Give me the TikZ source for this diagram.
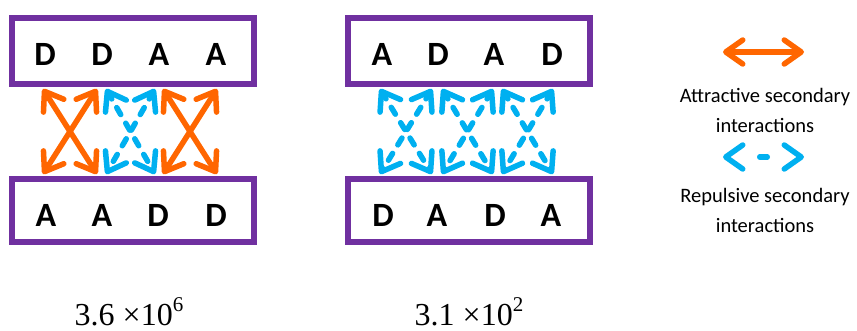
\documentclass[tikz,border=0pt]{standalone}
\usepackage{fontspec}
\setmainfont{Carlito}
\newfontfamily\timesf{Liberation Serif}
\usetikzlibrary{arrows.meta}
\definecolor{purp}{RGB}{112,48,160}
\definecolor{orng}{RGB}{255,102,0}
\definecolor{cyanb}{RGB}{0,176,240}
\tikzset{
  box/.style={draw=purp, line width=6pt, minimum width=242pt, inner sep=0pt},
  letter/.style={font=\fontsize{34}{34}\selectfont\bfseries, inner sep=0pt},
  tipb/.tip={Straight Barb[length=17pt,width=24pt,round]},
  attr/.style={draw=orng, line width=5.5pt, line cap=round, tipb-tipb},
  rep/.style={draw=cyanb, line width=5.5pt, line cap=round, dash pattern=on 8pt off 10pt, dash phase=2pt, tipb-tipb},
  legtext/.style={align=center, font=\fontsize{20.5}{30}\selectfont, inner sep=0pt},
  num/.style={font=\timesf\fontsize{32}{32}\selectfont, anchor=base, inner sep=0pt},
}
\begin{document}
\begin{tikzpicture}[x=1pt,y=-1pt]
\useasboundingbox (0,0) rectangle (857,331);
% boxes
\node[box, minimum height=66pt] (bTL) at (133,51) {};
\node[box, minimum height=63pt] (bBL) at (133,210.5) {};
\node[box, minimum height=66pt] (bTR) at (469,51) {};
\node[box, minimum height=63pt] (bBR) at (469,210.5) {};
% letters left
\node[letter] (l1) at (45,54) {D};
\node[letter] (l2) at (102,54) {D};
\node[letter] (l3) at (159,54) {A};
\node[letter] (l4) at (216,54) {A};
\node[letter] (l5) at (46,215) {A};
\node[letter] (l6) at (102,215) {A};
\node[letter] (l7) at (158,215) {D};
\node[letter] (l8) at (216,215) {D};
% letters right
\node[letter] (r1) at (382,54) {A};
\node[letter] (r2) at (438,54) {D};
\node[letter] (r3) at (494,54) {A};
\node[letter] (r4) at (552,54) {D};
\node[letter] (r5) at (383,215) {D};
\node[letter] (r6) at (437,215) {A};
\node[letter] (r7) at (495,215) {D};
\node[letter] (r8) at (551,215) {A};
% arrow end coordinates
\foreach \n/\x in {a/43,b/97,c/106,d/155,e/163,f/217,g/380,h/432,i/442,j/493,k/502,m/553}{
  \coordinate (t\n) at (\x,89);
  \coordinate (u\n) at (\x,174);
}
% left arrows
\draw[attr] (ta) -- (ub);
\draw[attr] (tb) -- (ua);
\draw[rep] (tc) -- (ud);
\draw[rep] (td) -- (uc);
\draw[attr] (te) -- (uf);
\draw[attr] (tf) -- (ue);
% right arrows
\draw[rep] (tg) -- (uh);
\draw[rep] (th) -- (ug);
\draw[rep] (ti) -- (uj);
\draw[rep] (tj) -- (ui);
\draw[rep] (tk) -- (um);
\draw[rep] (tm) -- (uk);
% legend
\coordinate (la1) at (723,52);
\coordinate (la2) at (804,52);
\coordinate (lr1) at (723,157);
\coordinate (lr2) at (804,157);
\coordinate (ld1) at (759.75,157);
\coordinate (ld2) at (767.25,157);
\draw[attr] (la1) -- (la2);
\draw[rep, dash pattern=on 0pt off 500pt] (lr1) -- (lr2);
\draw[draw=cyanb, line width=5.5pt, line cap=round] (ld1) -- (ld2);
\node[legtext] (lt1) at (765,110) {Attractive secondary\\interactions};
\node[legtext] (lt2) at (765,210) {Repulsive secondary\\interactions};
% numbers
\node[num] (n1) at (129,325) {3.6 ×10\raisebox{0.42em}{\fontsize{21}{21}\selectfont 6}};
\node[num] (n2) at (469,325) {3.1 ×10\raisebox{0.42em}{\fontsize{21}{21}\selectfont 2}};
\end{tikzpicture}
\end{document}
